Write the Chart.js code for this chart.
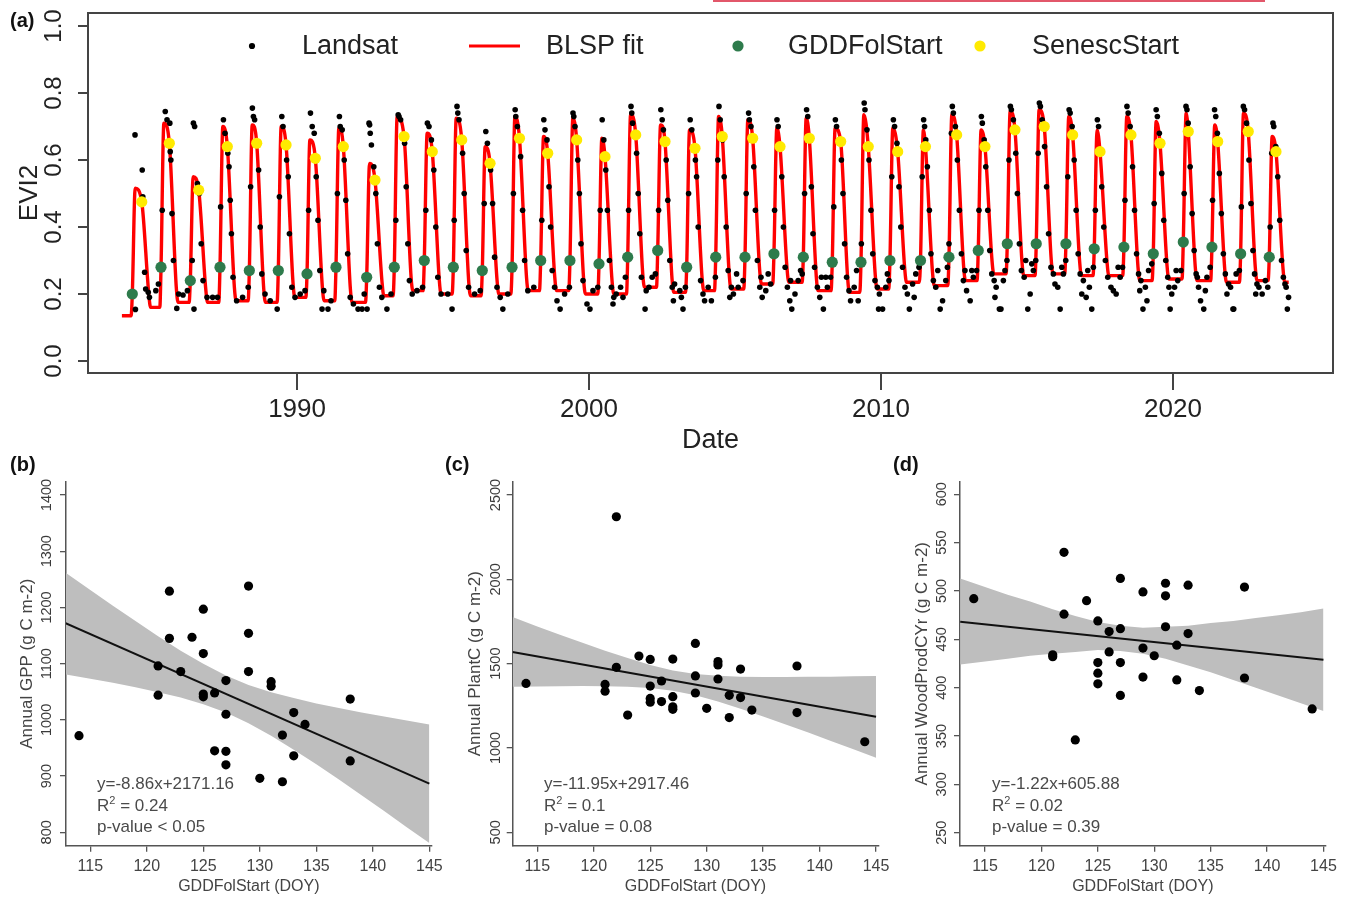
<!DOCTYPE html>
<html><head><meta charset="utf-8">
<script src="https://cdn.jsdelivr.net/npm/chart.js@4.4.1/dist/chart.umd.min.js"></script>
<style>
html,body{margin:0;padding:0;background:#fff;}
body{width:1350px;height:898px;position:relative;overflow:hidden;font-family:"Liberation Sans",Arial,Helvetica,sans-serif;}
canvas{position:absolute;}
.lbl{position:absolute;font-weight:bold;font-size:20px;line-height:24px;color:#111;}
.ann{position:absolute;font-size:17px;line-height:20px;color:#4a4a4a;white-space:nowrap;}
.ann sup{font-size:11px;line-height:0;vertical-align:7px;}
</style></head><body>
<div style="position:absolute;left:713px;top:0;width:552px;height:2px;background:#e2576a"></div>
<canvas id="ca" width="1350" height="470" style="left:0;top:0"></canvas>
<canvas id="cb" width="450" height="448" style="left:0;top:450px"></canvas>
<canvas id="cc" width="460" height="448" style="left:440px;top:450px"></canvas>
<canvas id="cd" width="470" height="448" style="left:880px;top:450px"></canvas>
<div class="lbl" style="left:10px;top:8px">(a)</div>
<div class="lbl" style="left:10px;top:452px">(b)</div>
<div class="lbl" style="left:445px;top:452px">(c)</div>
<div class="lbl" style="left:893px;top:452px">(d)</div>
<div class="ann" style="left:97px;top:774px">y=-8.86x+2171.16</div>
<div class="ann" style="left:97px;top:796px">R<sup>2</sup> = 0.24</div>
<div class="ann" style="left:97px;top:817px">p-value &lt; 0.05</div>
<div class="ann" style="left:544px;top:774px">y=-11.95x+2917.46</div>
<div class="ann" style="left:544px;top:796px">R<sup>2</sup> = 0.1</div>
<div class="ann" style="left:544px;top:817px">p-value = 0.08</div>
<div class="ann" style="left:992px;top:774px">y=-1.22x+605.88</div>
<div class="ann" style="left:992px;top:796px">R<sup>2</sup> = 0.02</div>
<div class="ann" style="left:992px;top:817px">p-value = 0.39</div>
<script>
// ---------------- Panel (a) data ----------------
const evi2Ticks = [0, 0.2, 0.4, 0.6, 0.8, 1.0];
const dateTicks = [1990, 2000, 2010, 2020];
const years = [1984,1985,1986,1987,1988,1989,1990,1991,1992,1993,1994,1995,1996,1997,1998,1999,2000,2001,2002,2003,2004,2005,2006,2007,2008,2009,2010,2011,2012,2013,2014,2015,2016,2017,2018,2019,2020,2021,2022,2023];
const gddFolStartDOY = [131,125,126,132,134,131,125,122,141,121,131,129,126,133,126,127,125,119,129,126,124,125,122,124,121,115,112,129,120,121,119,116,122,111,117,119,129,122,116,109];
const gddFolStartEVI2 = [.20,.28,.24,.28,.27,.27,.26,.28,.25,.28,.30,.28,.27,.28,.30,.30,.29,.31,.33,.28,.31,.31,.32,.31,.295,.295,.30,.30,.31,.33,.35,.35,.35,.335,.34,.32,.355,.34,.32,.31];
const senescStartDOY = [249,229,231,224,226,228,229,214,245,243,231,234,223,226,214,211,200,219,220,230,206,221,198,199,226,206,209,191,216,205,215,216,206,183,205,203,191,194,211,193];
const senescStartEVI2 = [.475,.65,.51,.64,.65,.645,.605,.64,.54,.67,.625,.66,.59,.665,.62,.66,.61,.675,.655,.635,.67,.665,.64,.665,.655,.64,.625,.64,.675,.64,.69,.70,.675,.625,.675,.65,.685,.655,.685,.625];
const fitPeakDOY = [167,161,162,168,170,167,161,158,177,157,167,165,162,169,162,163,161,155,165,162,160,161,158,160,157,151,148,165,156,157,155,152,158,147,153,155,165,158,152,145];
const fitPeakEVI2 = [.516,.71,.55,.70,.705,.70,.66,.695,.59,.73,.68,.725,.64,.73,.67,.725,.665,.735,.705,.69,.73,.72,.695,.725,.695,.735,.695,.69,.735,.69,.745,.75,.73,.69,.73,.715,.74,.705,.74,.67];
const fitRiseDOY = [116,110,111,117,119,116,110,107,126,106,116,114,111,118,111,112,110,104,114,111,109,110,107,109,106,100,97,114,105,106,104,101,107,96,102,104,114,107,101,94];
const fitLateDOY = [337,317,319,312,314,316,317,302,333,331,319,322,311,314,302,299,288,307,308,318,294,309,286,287,314,294,297,279,304,293,303,304,294,271,293,291,279,282,299,281];
const fitLateEVI2 = [.20,.215,.215,.22,.215,.23,.22,.215,.235,.25,.24,.235,.24,.25,.25,.24,.24,.26,.245,.25,.255,.27,.275,.25,.245,.255,.275,.265,.28,.30,.295,.30,.295,.295,.28,.285,.28,.275,.28,.275];
const fitDormDOY = [359,339,341,334,336,338,339,324,355,353,341,344,333,336,324,321,310,329,330,340,316,331,308,309,336,316,319,301,326,315,325,326,316,293,315,313,301,304,321,303];
const fitBaseEVI2 = [.135,.16,.175,.175,.18,.175,.19,.18,.175,.195,.21,.20,.195,.20,.21,.21,.20,.20,.22,.205,.21,.215,.23,.235,.21,.205,.215,.235,.225,.24,.26,.255,.26,.255,.255,.24,.245,.24,.235,.24,.235];
const landsatObs = [
 [1984,[[165,.675],[170,.154],[255,.57],[262,.49],[285,.265],[298,.215],[330,.205],[345,.19]]],
 [1985,[[60,.21],[92,.23],[140,.45],[178,.745],[200,.72],[235,.71],[240,.625],[248,.60],[262,.44],[280,.30],[322,.157],[345,.20]]],
 [1986,[[35,.197],[90,.21],[150,.30],[165,.71],[172,.155],[180,.70],[215,.53],[240,.50],[262,.35],[285,.24],[335,.19]]],
 [1987,[[40,.19],[100,.19],[140,.46],[175,.72],[195,.68],[230,.62],[245,.58],[260,.48],[275,.38],[295,.25],[340,.18]]],
 [1988,[[50,.19],[120,.22],[150,.52],[172,.755],[185,.73],[200,.72],[230,.65],[250,.57],[270,.40],[290,.26],[330,.20]]],
 [1989,[[30,.18],[117,.155],[145,.49],[175,.73],[190,.70],[235,.60],[255,.55],[270,.38],[300,.22],[340,.19]]],
 [1990,[[40,.20],[100,.21],[145,.45],[168,.74],[190,.70],[215,.68],[240,.55],[262,.42],[285,.27],[313,.155],[335,.21]]],
 [1991,[[22,.155],[60,.18],[140,.50],[165,.73],[175,.70],[200,.69],[225,.60],[245,.48],[268,.32],[300,.19],[340,.17]]],
 [1992,[[33,.155],[83,.155],[110,.20],[146,.155],[170,.71],[178,.705],[185,.68],[200,.645],[230,.58],[255,.50],[275,.35],[300,.22],[330,.19]]],
 [1993,[[29,.155],[80,.20],[140,.42],[170,.735],[180,.73],[200,.72],[250,.65],[270,.52],[290,.35],[310,.24],[345,.20]]],
 [1994,[[40,.21],[110,.22],[150,.45],[170,.71],[190,.70],[220,.66],[250,.57],[275,.40],[300,.25],[340,.20]]],
 [1995,[[60,.20],[113,.155],[140,.42],[175,.76],[185,.74],[200,.72],[245,.62],[265,.50],[290,.33],[320,.22]]],
 [1996,[[30,.20],[100,.21],[150,.47],[170,.685],[190,.65],[230,.57],[255,.47],[280,.31],[310,.22],[350,.19]]],
 [1997,[[18,.155],[80,.20],[150,.50],[172,.75],[180,.73],[200,.70],[240,.61],[265,.45],[290,.30],[330,.21]]],
 [1998,[[40,.22],[140,.42],[165,.72],[180,.69],[205,.66],[230,.52],[250,.40],[270,.27],[300,.22],[330,.18]]],
 [1999,[[4,.155],[60,.20],[120,.22],[165,.74],[175,.73],[190,.70],[225,.60],[245,.50],[265,.35],[290,.24],[340,.17]]],
 [2000,[[12,.155],[50,.21],[110,.22],[140,.45],[165,.72],[185,.66],[210,.57],[230,.45],[255,.30],[280,.22],[300,.17],[310,.19],[340,.20]]],
 [2001,[[30,.22],[60,.19],[90,.25],[130,.45],[160,.76],[170,.74],[180,.71],[230,.62],[250,.50],[270,.38],[290,.25],[336,.155],[350,.21]]],
 [2002,[[20,.22],[60,.25],[100,.26],[140,.45],[168,.75],[185,.72],[200,.69],[235,.60],[255,.48],[280,.30],[310,.22],[325,.18],[340,.23]]],
 [2003,[[40,.21],[60,.19],[80,.155],[110,.22],[150,.50],[170,.72],[190,.69],[235,.60],[250,.55],[270,.40],[300,.24],[330,.20],[350,.18]]],
 [2004,[[30,.22],[70,.18],[120,.25],[150,.60],[165,.76],[180,.72],[210,.66],[230,.55],[255,.40],[280,.27],[300,.19],[320,.22],[345,.20]]],
 [2005,[[20,.26],[40,.22],[100,.24],[140,.50],[170,.74],[180,.72],[200,.70],[235,.58],[255,.45],[280,.30],[310,.22],[325,.25],[340,.19]]],
 [2006,[[20,.21],[50,.26],[80,.23],[130,.45],[160,.72],[175,.70],[200,.64],[220,.55],[240,.40],[262,.28],[290,.22],[320,.18],[330,.24],[345,.155]]],
 [2007,[[20,.20],[60,.24],[90,.27],[110,.26],[140,.50],[165,.75],[180,.73],[205,.66],[225,.52],[245,.38],[265,.28],[300,.22],[330,.19],[350,.25]]],
 [2008,[[10,.155],[40,.25],[60,.22],[100,.25],[140,.46],[160,.72],[175,.70],[210,.66],[235,.60],[255,.50],[275,.35],[300,.25],[330,.21],[350,.18]]],
 [2009,[[30,.22],[60,.27],[80,.18],[120,.35],[155,.77],[165,.75],[190,.69],[215,.60],[240,.45],[262,.32],[290,.24],[320,.22],[335,.155],[345,.20]]],
 [2010,[[20,.155],[60,.22],[80,.26],[100,.24],[135,.55],[155,.72],[170,.70],[200,.65],[225,.52],[248,.40],[270,.28],[300,.22],[330,.20],[355,.155]]],
 [2011,[[30,.23],[50,.19],[70,.26],[110,.28],[150,.55],[168,.72],[180,.70],[195,.66],[215,.58],[240,.45],[260,.32],[290,.24],[320,.22],[345,.27]]],
 [2012,[[10,.155],[40,.18],[80,.24],[100,.28],[120,.35],[150,.68],[162,.76],[175,.74],[200,.70],[225,.60],[250,.45],[275,.32],[300,.24],[320,.27],[340,.21]]],
 [2013,[[20,.18],[40,.27],[60,.25],[100,.27],[130,.45],[160,.73],[172,.71],[195,.66],[215,.58],[240,.45],[265,.33],[290,.26],[320,.24],[330,.19],[345,.22]]],
 [2014,[[20,.155],[40,.155],[70,.24],[90,.27],[115,.30],[140,.60],[158,.76],[170,.75],[195,.72],[225,.62],[245,.50],[270,.35],[295,.27],[330,.25],[350,.30]]],
 [2015,[[10,.155],[40,.20],[60,.29],[80,.27],[110,.30],[140,.62],[155,.77],[168,.76],[190,.72],[220,.64],[245,.52],[270,.38],[300,.28],[330,.26],[350,.23]]],
 [2016,[[20,.22],[50,.155],[70,.28],[90,.26],[120,.30],[145,.55],[162,.75],[175,.74],[200,.70],[225,.60],[250,.45],[275,.32],[300,.26],[320,.20],[340,.24]]],
 [2017,[[10,.19],[30,.27],[50,.22],[80,.155],[100,.28],[125,.45],[150,.72],[165,.70],[185,.63],[205,.52],[230,.40],[250,.30],[280,.25],[320,.22],[350,.21]]],
 [2018,[[20,.20],[45,.28],[70,.25],[100,.28],[130,.48],[155,.76],[170,.74],[195,.70],[225,.58],[250,.45],[275,.32],[300,.26],[315,.21],[330,.24],[355,.155]]],
 [2019,[[20,.22],[40,.18],[60,.27],[100,.29],[130,.47],[155,.75],[170,.73],[195,.68],[225,.56],[250,.42],[275,.30],[300,.25],[315,.22],[330,.155],[350,.20]]],
 [2020,[[20,.22],[40,.27],[60,.24],[100,.27],[140,.50],[163,.76],[175,.75],[190,.71],[215,.58],[240,.44],[265,.33],[290,.26],[305,.25],[320,.22],[345,.18]]],
 [2021,[[20,.155],[40,.21],[60,.25],[100,.28],[130,.48],[155,.75],[170,.73],[190,.68],[215,.56],[240,.44],[265,.32],[290,.26],[310,.20],[330,.23],[355,.22]]],
 [2022,[[20,.155],[30,.155],[60,.26],[100,.27],[125,.46],[150,.76],[165,.75],[190,.71],[220,.60],[245,.47],[270,.33],[290,.26],[305,.20],[320,.23],[345,.22]]],
 [2023,[[20,.20],[60,.24],[90,.22],[120,.40],[140,.62],[155,.71],[165,.70],[190,.64],[215,.55],[240,.42],[262,.30],[285,.25],[305,.23],[320,.22],[335,.155],[350,.19]]]
];

// ---------------- Panels (b)-(d) data ----------------
const doyTicks = [115, 120, 125, 130, 135, 140, 145];
const gppTicks = [800, 900, 1000, 1100, 1200, 1300, 1400];
const plantcTicks = [500, 1000, 1500, 2000, 2500];
const woodTicks = [250, 300, 350, 400, 450, 500, 550, 600];
const gppDOY = [114,121,121,122,122,123,124,125,125,125,125,126,126,127,127,127,127,129,129,129,130,131,131,132,132,133,133,134,138,138];
const gppValues = [972,1096,1044,1229,1145,1086,1147,1197,1118,1046,1041,1048,945,1070,1010,944,920,1238,1154,1086,896,1068,1060,973,890,1013,936,992,1037,927];
const plantcDOY = [114,121,121,122,122,123,124,125,125,125,125,126,126,127,127,127,127,129,129,129,130,131,131,131,132,132,133,133,134,138,138,144];
const plantcValues = [1383,1377,1337,2371,1478,1195,1545,1525,1367,1294,1271,1397,1275,1527,1304,1244,1229,1620,1427,1326,1235,1512,1492,1409,1312,1180,1468,1299,1225,1486,1210,1037];
const woodDOY = [114,121,121,122,122,123,124,125,125,125,125,126,126,127,127,127,127,129,129,129,130,131,131,131,132,132,133,133,134,138,138,144];
const woodValues = [492,434,432,540,476,346,490,469,426,415,404,458,437,513,461,426,392,499,441,411,433,508,495,463,444,408,506,456,397,504,410,378];
const fitLineDOY = [112.8, 145];
const gppFit = [1172, 886.5];
const plantcFit = [1569.5, 1184.7];
const woodFit = [468.3, 429.0];
const bandDOY = [112.8,115,117,119,121,123,125,127,129,131,133,135,137,139,141,143,145];
const gppUpper = [1262,1231,1203,1176,1149,1123,1100,1079,1062,1049,1039,1029,1021,1013,1006,999,992];
const gppLower = [1081,1073,1066,1058,1049,1040,1028,1013,994,972,947,921,894,866,838,809,781];
const plantcUpper = [1776,1721,1672,1624,1577,1533,1492,1460,1439,1428,1423,1421,1421,1422,1423,1425,1427];
const plantcLower = [1363,1365,1366,1367,1366,1363,1355,1339,1313,1276,1233,1187,1139,1091,1042,992,942];
const woodUpper = [513,504,496,489,481,474,468,464,462,463,464,467,469,472,475,478,482];
const woodLower = [424,427,430,433,435,437,439,438,435,430,423,416,408,400,392,384,376];

// ---------------- build ----------------
const F = '"Liberation Sans", Arial, Helvetica, sans-serif';
Chart.defaults.font.family = F;
const toYear = (y, d) => y + (d - 0.5) / 365;

const fitLine = [{x: toYear(1984, 1), y: fitBaseEVI2[0]}];
years.forEach((y, i) => {
  fitLine.push({x: toYear(y, fitRiseDOY[i]), y: fitBaseEVI2[i]});
  fitLine.push({x: toYear(y, gddFolStartDOY[i]), y: gddFolStartEVI2[i]});
  fitLine.push({x: toYear(y, fitPeakDOY[i]), y: fitPeakEVI2[i]});
  fitLine.push({x: toYear(y, senescStartDOY[i]), y: senescStartEVI2[i]});
  fitLine.push({x: toYear(y, fitLateDOY[i]), y: fitLateEVI2[i]});
  fitLine.push({x: toYear(y, fitDormDOY[i]), y: fitBaseEVI2[i + 1]});
});
fitLine.push({x: toYear(2023, 352), y: fitBaseEVI2[40]});
const greenPts = years.map((y, i) => ({x: toYear(y, gddFolStartDOY[i]), y: gddFolStartEVI2[i]}));
const yellowPts = years.map((y, i) => ({x: toYear(y, senescStartDOY[i]), y: senescStartEVI2[i]}));
const landsatPts = [];
landsatObs.forEach(([y, obs]) => obs.forEach(([d, v]) => landsatPts.push({x: toYear(y, d), y: v})));

const framePlugin = {
  id: 'frame',
  afterDraw(chart) {
    const {ctx, chartArea: a} = chart;
    ctx.save();
    ctx.strokeStyle = '#444'; ctx.lineWidth = 2;
    ctx.beginPath();
    ctx.moveTo(a.left, a.top); ctx.lineTo(a.right, a.top); ctx.lineTo(a.right, a.bottom);
    ctx.stroke();
    ctx.restore();
  }
};
const legendPos = {'Landsat': [252, 302], 'BLSP fit': [494.5, 546], 'GDDFolStart': [738, 788], 'SenescStart': [980, 1032]};
const rLegend = {
  id: 'rLegend',
  afterDraw(chart) {
    const {ctx} = chart;
    const y = 46;
    ctx.save();
    ['Landsat', 'BLSP fit', 'GDDFolStart', 'SenescStart'].forEach(name => {
      const d = chart.data.datasets.find(s => s.label === name);
      const [sx, tx] = legendPos[name];
      if (d.type === 'line') {
        ctx.strokeStyle = d.borderColor; ctx.lineWidth = 3;
        ctx.beginPath(); ctx.moveTo(sx - 25.5, y); ctx.lineTo(sx + 25.5, y); ctx.stroke();
      } else {
        ctx.fillStyle = d.pointBackgroundColor;
        ctx.beginPath(); ctx.arc(sx, y, d.pointRadius + (name === 'Landsat' ? 0.3 : 0), 0, Math.PI * 2); ctx.fill();
      }
      ctx.fillStyle = '#222'; ctx.font = '27px ' + F; ctx.textBaseline = 'middle'; ctx.textAlign = 'left';
      ctx.fillText(name, tx, y + 1);
    });
    ctx.restore();
  }
};

new Chart(document.getElementById('ca'), {
  type: 'scatter',
  data: {datasets: [
    {label: 'SenescStart', data: yellowPts, pointRadius: 5.6, pointBackgroundColor: '#ffea00', backgroundColor: '#ffea00', pointBorderWidth: 0, borderWidth: 0, order: 0},
    {label: 'GDDFolStart', data: greenPts, pointRadius: 5.6, pointBackgroundColor: '#2e7b4c', backgroundColor: '#2e7b4c', pointBorderWidth: 0, borderWidth: 0, order: 1},
    {label: 'Landsat', data: landsatPts, pointRadius: 2.8, pointBackgroundColor: '#000', backgroundColor: '#000', pointBorderWidth: 0, borderWidth: 0, order: 2},
    {label: 'BLSP fit', type: 'line', data: fitLine, showLine: true, borderColor: '#ff0000', borderWidth: 3.4, pointRadius: 0, cubicInterpolationMode: 'monotone', fill: false, order: 3}
  ]},
  options: {
    responsive: false, animation: false, events: [], devicePixelRatio: 1,
    layout: {padding: {left: 0, top: 13, right: 17, bottom: 0}},
    plugins: {legend: {display: false}, tooltip: {enabled: false}},
    scales: {
      x: {type: 'linear', min: 1982.84, max: 2025.48,
        afterBuildTicks: s => { s.ticks = dateTicks.map(v => ({value: v})); },
        afterFit: s => { s.height = 97; s.paddingLeft = 0; s.paddingRight = 0; },
        ticks: {callback: v => String(v), font: {size: 26}, color: '#222', padding: 4.4, maxRotation: 0, autoSkip: false},
        grid: {drawOnChartArea: false, tickLength: 17, color: '#444', lineWidth: 2},
        border: {color: '#444', width: 2},
        title: {display: true, text: 'Date', font: {size: 27}, color: '#222', padding: {top: 0, bottom: 12.8}}
      },
      y: {type: 'linear', min: -0.0358, max: 1.0388,
        afterBuildTicks: s => { s.ticks = evi2Ticks.map(v => ({value: v})); },
        afterFit: s => { s.width = 88; s.paddingTop = 0; s.paddingBottom = 0; },
        ticks: {callback: v => v.toFixed(1), font: {size: 24}, color: '#222', padding: 7.3, minRotation: 90, maxRotation: 90, crossAlign: 'center', autoSkip: false},
        grid: {drawOnChartArea: false, tickLength: 10, color: '#444', lineWidth: 2},
        border: {color: '#444', width: 2},
        title: {display: true, text: 'EVI2', font: {size: 26}, color: '#222', padding: {top: 14.4, bottom: 0}}
      }
    }
  },
  plugins: [framePlugin, rLegend]
});

function makePanel(id, o) {
  const pts = o.xs.map((x, i) => ({x, y: o.ys[i]}));
  const fit = fitLineDOY.map((x, i) => ({x, y: o.fit[i]}));
  const up = bandDOY.map((x, i) => ({x, y: o.upper[i]}));
  const lo = bandDOY.map((x, i) => ({x, y: o.lower[i]}));
  new Chart(document.getElementById(id), {
    type: 'scatter',
    data: {datasets: [
      {data: pts, pointRadius: 4.6, pointBackgroundColor: '#000', backgroundColor: '#000', pointBorderWidth: 0, borderWidth: 0, order: 0},
      {type: 'line', data: fit, borderColor: '#111', borderWidth: 2, pointRadius: 0, fill: false, order: 1},
      {type: 'line', data: up, borderWidth: 0, borderColor: 'rgba(0,0,0,0)', pointRadius: 0, fill: '+1', backgroundColor: '#bebebe', order: 2},
      {type: 'line', data: lo, borderWidth: 0, borderColor: 'rgba(0,0,0,0)', pointRadius: 0, fill: false, order: 3}
    ]},
    options: {
      responsive: false, animation: false, events: [], devicePixelRatio: 1,
      layout: {padding: {left: 0, top: 31.7, right: o.right, bottom: 0}},
      plugins: {legend: {display: false}, tooltip: {enabled: false}},
      scales: {
        x: {type: 'linear', min: o.xMin, max: 145.2,
          afterBuildTicks: s => { s.ticks = doyTicks.map(v => ({value: v})); },
          afterFit: s => { s.height = 52.3; s.paddingLeft = 0; s.paddingRight = 0; },
          ticks: {callback: v => String(v), font: {size: 16}, color: '#444', padding: 5.4, maxRotation: 0, autoSkip: false},
          grid: {drawOnChartArea: false, tickLength: 6, color: '#555', lineWidth: 1.3},
          border: {color: '#555', width: 1.5},
          title: {display: true, text: 'GDDFolStart (DOY)', font: {size: 16}, color: '#444', padding: {top: 0, bottom: 1.7}}
        },
        y: {type: 'linear', min: o.yMin, max: o.yMax,
          afterBuildTicks: s => { s.ticks = o.yTicks.map(v => ({value: v})); },
          afterFit: s => { s.width = o.yW; s.paddingTop = 0; s.paddingBottom = 0; },
          ticks: {callback: v => String(v), font: {size: 14.5}, color: '#3a3a3a', padding: o.yTickPad, minRotation: 90, maxRotation: 90, crossAlign: 'center', autoSkip: false},
          grid: {drawOnChartArea: false, tickLength: 6, color: '#555', lineWidth: 1.3},
          border: {color: '#555', width: 1.5},
          title: {display: true, text: o.yTitle, font: {size: 17}, color: '#444', padding: {top: o.yTitlePad, bottom: 0}}
        }
      }
    }
  });
}

makePanel('cb', {xs: gppDOY, ys: gppValues, fit: gppFit, upper: gppUpper, lower: gppLower,
  xMin: 112.85, right: 18.4, yMin: 776.2, yMax: 1423.7, yTicks: gppTicks, yW: 66, yTickPad: -3.2,
  yTitle: 'Annual GPP (g C m-2)', yTitlePad: 16.8});
makePanel('cc', {xs: plantcDOY, ys: plantcValues, fit: plantcFit, upper: plantcUpper, lower: plantcLower,
  xMin: 112.82, right: 21.7, yMin: 420.5, yMax: 2578.9, yTicks: plantcTicks, yW: 72.7, yTickPad: -5.5,
  yTitle: 'Annual PlantC (g C m-2)', yTitlePad: 24.8});
makePanel('cd', {xs: woodDOY, ys: woodValues, fit: woodFit, upper: woodUpper, lower: woodLower,
  xMin: 112.78, right: 24.3, yMin: 236.6, yMax: 613.0, yTicks: woodTicks, yW: 80, yTickPad: 0.4,
  yTitle: 'Annual WoodProdCYr (g C m-2)', yTitlePad: 31.8});
</script>
</body></html>
